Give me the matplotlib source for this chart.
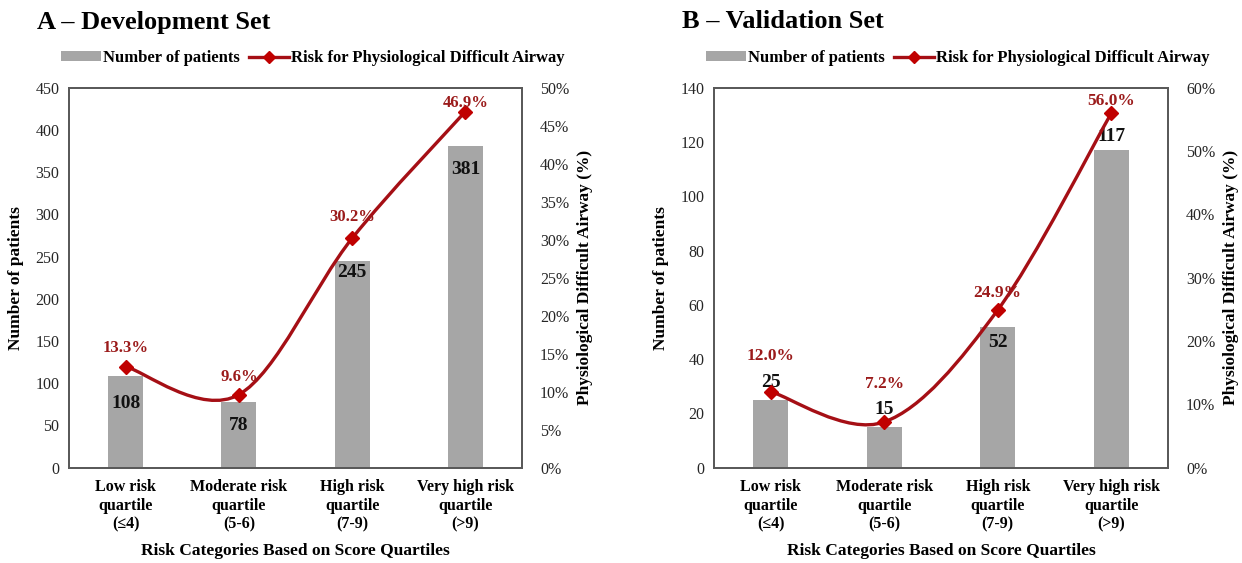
"""Bar + smoothed risk line, development and validation sets."""

import matplotlib.pyplot as plt
from matplotlib.patches import Patch, PathPatch
from matplotlib.lines import Line2D
from matplotlib.path import Path
from matplotlib.ticker import FuncFormatter

categories = [
    "Low risk\nquartile\n(\u22644)",
    "Moderate risk\nquartile\n(5-6)",
    "High risk\nquartile\n(7-9)",
    "Very high risk\nquartile\n(>9)",
]
dev_patients = [108, 78, 245, 381]
dev_risk = [13.3, 9.6, 30.2, 46.9]
val_patients = [25, 15, 52, 117]
val_risk = [12.0, 7.2, 24.9, 56.0]

plt.rcParams["font.family"] = ["Liberation Serif", "DejaVu Serif"]

BAR = "#A6A6A6"
LINE = "#A50F15"
MARK = "#C00000"
LABEL_RED = "#9B1B1B"
FRAME = "#595959"


def smooth_path(xs, ys):
    # Excel-like smoothing: cubic Bezier segments with Catmull-Rom handles
    pts = list(zip(xs, ys))
    verts = [pts[0]]
    codes = [Path.MOVETO]
    n = len(pts)
    for i in range(n - 1):
        p0 = pts[max(i - 1, 0)]
        p1 = pts[i]
        p2 = pts[i + 1]
        p3 = pts[min(i + 2, n - 1)]
        c1 = (p1[0] + (p2[0] - p0[0]) / 6, p1[1] + (p2[1] - p0[1]) / 6)
        c2 = (p2[0] - (p3[0] - p1[0]) / 6, p2[1] - (p3[1] - p1[1]) / 6)
        verts += [c1, c2, p2]
        codes += [Path.CURVE4] * 3
    return Path(verts, codes)


def panel(fig, rect, title, patients, risk, ymax, ystep, rmax, rstep,
          bar_dy, pct_dy, pct_size, title_x, legend_x):
    ax = fig.add_axes(rect)
    x = list(range(len(categories)))
    ax.bar(x, patients, width=0.31, color=BAR, zorder=2)
    ax.set_xlim(-0.5, len(categories) - 0.5)
    ax.set_ylim(0, ymax)
    ax.set_yticks(range(0, ymax + 1, ystep))
    ax.set_xticks(x)
    ax.set_xticklabels(categories, fontweight="bold", fontsize=11.5,
                       linespacing=1.25)
    ax.tick_params(axis="x", length=0, pad=8)
    ax.tick_params(axis="y", length=0, pad=7, labelsize=11.5,
                   labelcolor="#262626")
    ax.set_ylabel("Number of patients", fontweight="bold", fontsize=12.5)
    ax.yaxis.set_label_coords(-0.1, 0.5)
    ax.set_xlabel("Risk Categories Based on Score Quartiles",
                  fontweight="bold", fontsize=12.5, va="center")
    ax.xaxis.set_label_coords(0.5, -0.22)

    ax2 = ax.twinx()
    ax2.set_ylim(0, rmax)
    ax2.set_yticks(range(0, rmax + 1, rstep))
    ax2.yaxis.set_major_formatter(FuncFormatter(lambda v, _: f"{v:.0f}%"))
    ax2.tick_params(axis="y", length=0, pad=13, labelsize=11.5,
                    labelcolor="#262626")
    ax2.set_ylabel("Physiological Difficult Airway (%)", fontweight="bold",
                   fontsize=12.5)
    ax2.yaxis.set_label_coords(1.122, 0.5)

    for a in (ax, ax2):
        for s in a.spines.values():
            s.set_color(FRAME)
            s.set_linewidth(1.3)

    ax2.add_patch(PathPatch(smooth_path(x, risk), facecolor="none",
                            edgecolor=LINE, linewidth=2.4, zorder=3))
    ax2.plot(x, risk, linestyle="none", marker="D", markersize=7.5,
             color=MARK, zorder=4)

    for xi, n, dy in zip(x, patients, bar_dy):
        ax.annotate(str(n), (xi, n), xytext=(0, dy), textcoords="offset pixels",
                    ha="center", va="center", fontweight="bold", fontsize=14,
                    color="#111111", zorder=5)
    for xi, r, dy in zip(x, risk, pct_dy):
        ax2.annotate(f"{r:.1f}%", (xi, r), xytext=(0, dy),
                     textcoords="offset pixels", ha="center", va="center",
                     fontweight="bold", fontsize=pct_size, color=LABEL_RED,
                     zorder=5)

    fig.text(title_x, 1 - 22 / 563, title, fontsize=19, fontweight="bold",
             ha="left", va="center")
    handles = [
        Patch(facecolor=BAR, edgecolor="none"),
        Line2D([], [], color=LINE, linewidth=2.4, marker="D", markersize=6,
               markerfacecolor=MARK, markeredgecolor=MARK),
    ]
    fig.legend(handles, ["Number of patients",
                         "Risk for Physiological Difficult Airway"],
               loc="center left", bbox_to_anchor=(legend_x, 1 - 58 / 563),
               ncol=2, frameon=False, handlelength=2.4, handleheight=0.55,
               handletextpad=0.1, columnspacing=0.6, borderaxespad=0,
               borderpad=0, prop={"weight": "bold", "size": 12})
    return ax, ax2


fig = plt.figure(figsize=(12.42, 5.63), dpi=100)
bottom = (563 - 467.5) / 563
height = 379.5 / 563

panel(fig, [69 / 1242, bottom, 453 / 1242, height], "A \u2013 Development Set",
      dev_patients, dev_risk, 450, 50, 50, 5,
      bar_dy=[-27, -24, -12, -23], pct_dy=[19, 18, 21, 9], pct_size=12,
      title_x=37 / 1242, legend_x=61 / 1242)
panel(fig, [714 / 1242, bottom, 454 / 1242, height], "B \u2013 Validation Set",
      val_patients, val_risk, 140, 20, 60, 10,
      bar_dy=[17, 17, -16, 14], pct_dy=[36, 38, 17, 12], pct_size=12.5,
      title_x=682 / 1242, legend_x=706 / 1242)

fig.savefig("out.png", dpi=100)
